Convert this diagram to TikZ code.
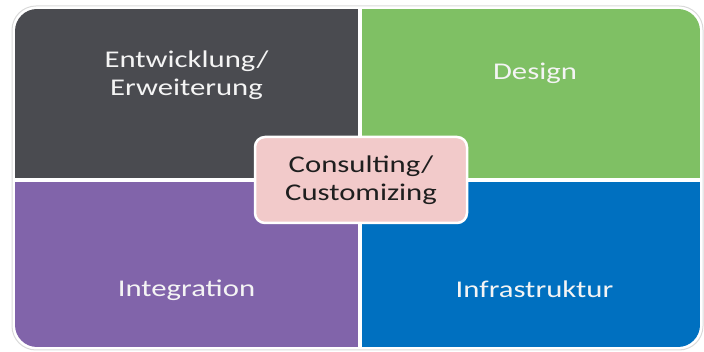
\documentclass[tikz,border=0pt]{standalone}
\usepackage{fontspec}
\setmainfont[FakeStretch=1.28]{Carlito}

\definecolor{dunkel}{HTML}{4A4B50}
\definecolor{gruen}{HTML}{7FC064}
\definecolor{lila}{HTML}{8164AA}
\definecolor{blau}{HTML}{0070C0}
\definecolor{rosa}{HTML}{F2CACA}
\definecolor{feldtext}{HTML}{F4F4F4}
\definecolor{mittetext}{HTML}{1E1E1E}
\definecolor{rahmen}{HTML}{DADADA}

\begin{document}
\begin{tikzpicture}[x=1pt, y=-1pt,
  feld/.style={text=feldtext, font=\fontsize{24}{28}\selectfont, align=center, anchor=base},
  mitte/.style={fill=rosa, draw=white, line width=2.5pt, rounded corners=10pt,
    minimum width=212pt, minimum height=86pt, text=mittetext,
    font=\fontsize{24}{28}\selectfont, align=center}]

% Parameter
\def\r{22}       % Eckenradius
\def\mx{360}     % senkrechte Fuge
\def\my{180.5}   % waagrechte Fuge

\useasboundingbox (0,0) rectangle (704,352);

%========================
% Rahmen
%========================
\draw[rahmen, line width=1pt, rounded corners=24] (12,6) rectangle (703,350);

%========================
% Vier Felder
%========================
\begin{scope}
  \clip[rounded corners=\r] (15,9) rectangle (700,347);
  \fill[dunkel] (15,9) rectangle (\mx-2,\my-2);
  \fill[gruen] (\mx+2,9) rectangle (700,\my-2);
  \fill[lila] (15,\my+2) rectangle (\mx-2,347);
  \fill[blau] (\mx+2,\my+2) rectangle (700,347);
\end{scope}

%========================
% Beschriftungen
%========================
\node[feld] (entw) at (186.5,96) {Entwicklung/\\Erweiterung};
\node[feld] (design) at (535,80) {Design};
\node[feld] (integ) at (186.5,297) {Integration};
\node[feld] (infra) at (534.5,298) {Infrastruktur};

%========================
% Mitte
%========================
\node[mitte] (cons) at (361,180) {Consulting/\\Customizing};

\end{tikzpicture}
\end{document}
